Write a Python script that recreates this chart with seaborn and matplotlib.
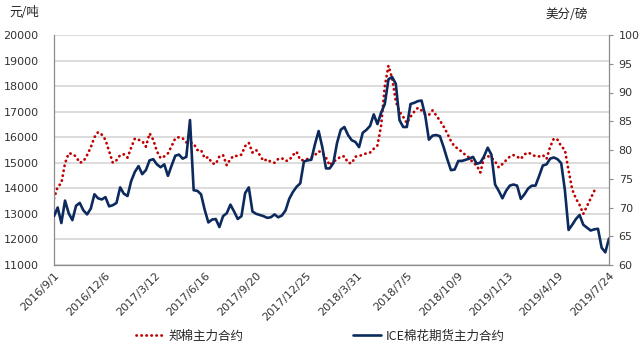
import numpy as np
import pandas as pd
import matplotlib
matplotlib.use("Agg")
import matplotlib.pyplot as plt
import seaborn as sns

# Weekly closes, 2016/9/1 - 2019/7/24
zc_label = "郑棉主力合约"
ice_label = "ICE棉花期货主力合约"
nan = np.nan

# 郑棉主力合约, 元/吨 (left axis)
zc_values = [
    13600, 14060, 14200, 14980, 15370, 15350, 15240, 15000, 15050, 15300,
    15600, 16000, 16200, 16100, 15900, 15450, 15000, 15100, 15300, 15330,
    15200, 15600, 15950, 15900, 15850, 15630, 16150, 15900, 15450, 15180,
    15250, 15370, 15650, 15960, 16000, 15960, 15800, 15800, 15750, 15500,
    15500, 15180, 15220, 14980, 14950, 15250, 15300, 14900, 15150, 15280,
    15260, 15320, 15650, 15780, 15400, 15500, 15300, 15070, 15140, 15030,
    15000, 15150, 15180, 15070, 15100, 15300, 15430, 15110, 15100, 15150,
    15200, 15300, 15450, 15400, 15200, 14900, 15050, 15120, 15250, 15250,
    15000, 14980, 15240, 15260, 15320, 15370, 15400, 15550, 15680, 16450,
    18000, 18800, 18300, 17400, 17000, 16800, 16550, 16800, 17000, 17150,
    17050, 16900, 16870, 17050, 16850, 16650, 16420, 16150, 15850, 15630,
    15550, 15420, 15300, 15200, 15000, 14900, 14620, 15200, 15260, 15200,
    15050, 14820, 14950, 15100, 15240, 15300, 15240, 15150, 15330, 15400,
    15330, 15250, 15250, 15300, 15150, 15630, 15950, 15900, 15650, 15500,
    14700, 13950, 13600, 13350, 13000, 13300, 13600, 13900, 13950, nan,
    nan, nan,
]

# ICE棉花期货主力合约, 美分/磅 (right axis)
ice_values = [
    68.5, 70.0, 67.3, 71.2, 69.0, 67.8, 70.3, 70.8, 69.5, 68.8,
    69.8, 72.3, 71.6, 71.4, 71.8, 70.2, 70.4, 70.8, 73.5, 72.4,
    72.0, 74.6, 76.2, 77.2, 75.8, 76.5, 78.2, 78.4, 77.5, 77.0,
    77.5, 75.5, 77.3, 79.0, 79.2, 78.5, 78.8, 85.2, 73.0, 72.9,
    72.3, 69.6, 67.4, 67.9, 68.0, 66.6, 68.5, 69.0, 70.5, 69.3,
    68.0, 68.5, 72.5, 73.5, 69.3, 68.9, 68.7, 68.5, 68.2, 68.3,
    68.8, 68.3, 68.6, 69.5, 71.5, 72.7, 73.6, 74.2, 78.0, 78.2,
    78.3, 81.0, 83.3, 80.5, 76.8, 76.8, 77.7, 81.2, 83.5, 84.0,
    82.6, 81.7, 81.4, 80.5, 83.0, 83.5, 84.2, 86.2, 84.5, 86.5,
    88.0, 92.3, 92.7, 91.5, 85.2, 84.0, 84.0, 88.0, 88.2, 88.5,
    88.6, 86.0, 81.8, 82.5, 82.6, 82.4, 80.5, 78.4, 76.5, 76.6,
    78.1, 78.1, 78.3, 78.5, 78.8, 77.6, 77.8, 78.9, 80.4, 79.2,
    74.0, 72.9, 71.6, 72.9, 73.8, 74.0, 73.8, 71.5, 72.3, 73.3,
    73.8, 73.8, 75.5, 77.3, 77.5, 78.5, 78.7, 78.4, 77.7, 73.0,
    66.1, 67.0, 68.0, 68.7, 67.0, 66.5, 66.0, 66.2, 66.3, 63.0,
    62.2, 64.6,
]

start_date, end_date = "2016-09-01", "2019-07-24"
tick_dates = pd.date_range(start_date, periods=12, freq="96D")
tick_labels = [f"{d.year}/{d.month}/{d.day}" for d in tick_dates]

dates = pd.date_range(start_date, end_date, periods=len(ice_values))
df = pd.DataFrame({"date": dates,
                   "zc": np.array(zc_values, dtype=float),
                   "ice": np.array(ice_values, dtype=float)})

sns.set_style("white")
plt.rcParams["font.family"] = ["DejaVu Sans", "Noto Sans CJK SC"]

W, H = 644, 349
fig = plt.figure(figsize=(W / 100, H / 100), dpi=100)
left, right, top, bottom = 54, 609, 35, 265
ax = fig.add_axes([left / W, 1 - bottom / H, (right - left) / W, (bottom - top) / H])
ax2 = ax.twinx()

red = "#C00000"
navy = "#0C2A5E"
grey_axis = "#8C8C8C"
text_col = "#333333"

sns.lineplot(data=df, x="date", y="zc", ax=ax, color=red, linewidth=2.0,
             linestyle=(0, (0.1, 1.7)), dash_capstyle="round",
             errorbar=None, label=zc_label, legend=False)
sns.lineplot(data=df, x="date", y="ice", ax=ax2, color=navy, linewidth=1.9,
             errorbar=None, label=ice_label, legend=False)

ax.set_xlim(pd.Timestamp(start_date), pd.Timestamp(end_date))
ax.set_ylim(11000, 20000)
ax.set_yticks(range(11000, 20001, 1000))
ax2.set_ylim(60, 100)
ax2.set_yticks(range(60, 101, 5))
ax.set_xticks(tick_dates)
ax.set_xticklabels(tick_labels, rotation=45, ha="right", va="top",
                   rotation_mode="anchor")
for a in (ax, ax2):
    a.set_xlabel("")
    a.set_ylabel("")

ax.grid(axis="y", color="#D9D9D9", linewidth=1.3)
ax.grid(axis="x", visible=False)
ax2.grid(False)
ax.set_axisbelow(True)

ax.tick_params(axis="y", length=0, pad=11, labelsize=8, labelcolor=text_col)
ax.tick_params(axis="x", length=0, pad=4, labelsize=8, labelcolor=text_col)
ax2.tick_params(axis="y", length=3, width=0.8, color=grey_axis, pad=4,
                labelsize=8, labelcolor=text_col)

for s in ("top", "right"):
    ax.spines[s].set_visible(False)
for s in ("left", "bottom"):
    ax.spines[s].set_color(grey_axis)
    ax.spines[s].set_linewidth(0.9)
for s in ("top", "left", "bottom"):
    ax2.spines[s].set_visible(False)
ax2.spines["right"].set_color(grey_axis)
ax2.spines["right"].set_linewidth(0.9)

cjk = ["Noto Sans CJK SC", "DejaVu Sans"]
fig.text(9 / W, 1 - 12 / H, "元/吨", ha="left", va="center", fontsize=9,
         family=cjk, color="#222222")
fig.text(545 / W, 1 - 14 / H, "美分/磅", ha="left", va="center", fontsize=9,
         family=cjk, color="#222222")

h1, l1 = ax.get_legend_handles_labels()
h2, l2 = ax2.get_legend_handles_labels()
fig.legend(h1 + h2, l1 + l2, loc="center", bbox_to_anchor=(320 / W, 1 - 336 / H),
           ncol=2, frameon=False, handlelength=2.2, handletextpad=0.4,
           columnspacing=8.8, prop={"family": cjk, "size": 9})

fig.savefig("out.png", dpi=100)
